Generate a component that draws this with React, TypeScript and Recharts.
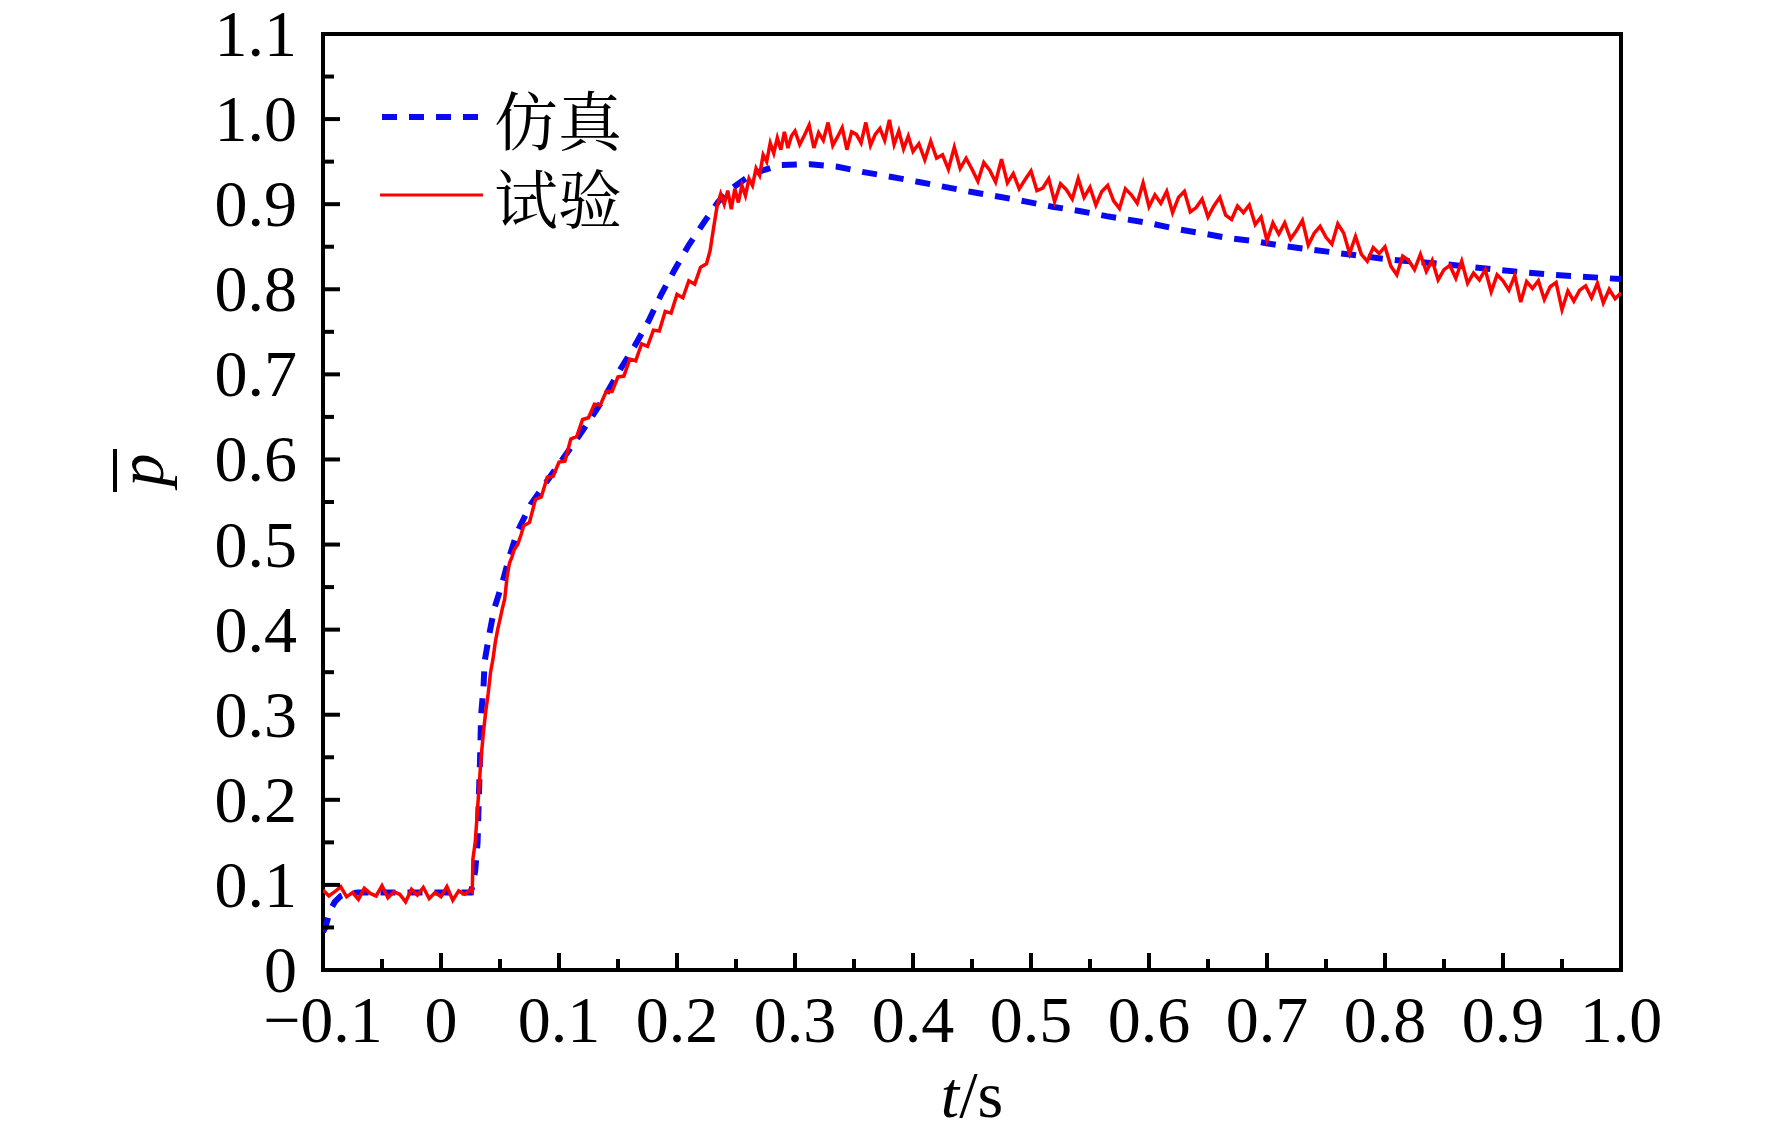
import React from "react";
import {
  Label,
  Legend,
  Line,
  LineChart,
  ReferenceArea,
  XAxis,
  YAxis,
} from "recharts";

// ---------------------------------------------------------------------------
// Data (t in s, p̄ normalised pressure)
// ---------------------------------------------------------------------------

// 仿真 — simulation, smooth
const SIM: [number, number][] = [
  [-0.1, 0.045], [-0.098, 0.05], [-0.094, 0.07], [-0.09, 0.08], [-0.085, 0.087],
  [-0.08, 0.09], [-0.07, 0.091], [0, 0.091], [0.025, 0.091], [0.027, 0.1],
  [0.029, 0.117], [0.031, 0.15], [0.032, 0.2], [0.033, 0.243], [0.034, 0.3],
  [0.036, 0.332], [0.037, 0.363], [0.041, 0.395], [0.045, 0.424], [0.052, 0.455],
  [0.058, 0.486], [0.065, 0.516], [0.076, 0.547], [0.09, 0.575], [0.106, 0.606],
  [0.124, 0.642], [0.138, 0.672], [0.152, 0.706], [0.164, 0.733], [0.176, 0.763],
  [0.187, 0.795], [0.198, 0.823], [0.21, 0.852], [0.225, 0.883], [0.235, 0.903],
  [0.246, 0.918], [0.264, 0.936], [0.288, 0.946], [0.313, 0.947], [0.336, 0.944],
  [0.357, 0.938], [0.382, 0.932], [0.405, 0.926], [0.428, 0.92], [0.451, 0.914],
  [0.472, 0.909], [0.496, 0.903], [0.518, 0.897], [0.541, 0.892], [0.564, 0.886],
  [0.599, 0.878], [0.623, 0.871], [0.644, 0.866], [0.668, 0.86], [0.692, 0.856],
  [0.713, 0.851], [0.758, 0.843], [0.803, 0.835], [0.854, 0.829], [0.894, 0.823],
  [0.942, 0.817], [1.0, 0.812],
];

// 试验 — experiment, noisy trace, split by phase
const EXP_BASE: [number, number][] = [
  [-0.1, 0.094], [-0.095, 0.087], [-0.09, 0.092], [-0.085, 0.098], [-0.08, 0.086],
  [-0.075, 0.091], [-0.07, 0.083], [-0.065, 0.096], [-0.06, 0.09], [-0.055, 0.087],
  [-0.05, 0.099], [-0.045, 0.085], [-0.04, 0.092], [-0.035, 0.089], [-0.03, 0.08],
  [-0.025, 0.095], [-0.02, 0.088], [-0.015, 0.097], [-0.01, 0.084], [-0.005, 0.091],
  [0, 0.086], [0.005, 0.098], [0.01, 0.082], [0.015, 0.093], [0.02, 0.089],
  [0.025, 0.094],
];

const EXP_RISE: [number, number][] = [
  [0.0265, 0.092], [0.027, 0.13], [0.029, 0.15], [0.03, 0.17], [0.032, 0.21],
  [0.034, 0.25], [0.036, 0.28], [0.038, 0.305], [0.04, 0.325], [0.042, 0.35],
  [0.044, 0.365], [0.046, 0.385], [0.048, 0.4], [0.05, 0.412], [0.052, 0.425],
  [0.054, 0.436], [0.056, 0.462], [0.058, 0.478], [0.06, 0.485], [0.062, 0.494],
  [0.065, 0.5], [0.068, 0.512], [0.07, 0.522], [0.075, 0.526], [0.08, 0.553],
  [0.085, 0.556], [0.09, 0.579], [0.095, 0.58], [0.1, 0.597], [0.105, 0.598],
  [0.11, 0.624], [0.115, 0.627], [0.12, 0.647], [0.125, 0.649], [0.13, 0.665],
  [0.135, 0.664], [0.14, 0.68], [0.145, 0.68], [0.15, 0.697], [0.155, 0.698],
  [0.16, 0.718], [0.165, 0.716], [0.17, 0.736], [0.175, 0.733], [0.18, 0.752],
  [0.185, 0.751], [0.19, 0.774], [0.195, 0.772], [0.2, 0.794], [0.205, 0.79],
  [0.21, 0.81], [0.215, 0.806], [0.22, 0.826], [0.225, 0.83], [0.228, 0.845],
  [0.231, 0.872], [0.234, 0.898], [0.237, 0.912], [0.24, 0.9], [0.243, 0.916],
  [0.246, 0.894], [0.249, 0.918], [0.252, 0.902], [0.255, 0.922], [0.258, 0.91],
  [0.261, 0.93], [0.264, 0.922], [0.267, 0.942], [0.27, 0.934], [0.273, 0.958],
  [0.276, 0.95], [0.279, 0.972], [0.282, 0.96], [0.285, 0.978], [0.288, 0.964],
  [0.291, 0.985], [0.294, 0.966], [0.297, 0.98],
];

const EXP_PEAK: [number, number][] = [
  [0.3, 0.986], [0.304, 0.97], [0.308, 0.981], [0.312, 0.993], [0.316, 0.966],
  [0.32, 0.984], [0.324, 0.975], [0.328, 0.996], [0.332, 0.969], [0.336, 0.979],
  [0.34, 0.99], [0.344, 0.964], [0.348, 0.985], [0.352, 0.982], [0.356, 0.972],
  [0.36, 0.996], [0.364, 0.969], [0.368, 0.982], [0.372, 0.989], [0.376, 0.975],
  [0.38, 0.999], [0.384, 0.97], [0.388, 0.986], [0.392, 0.965], [0.396, 0.98],
  [0.4, 0.962],
];

const EXP_DECAY: [number, number][] = [
  [0.405, 0.971], [0.41, 0.952], [0.415, 0.974], [0.42, 0.954], [0.425, 0.958],
  [0.43, 0.941], [0.435, 0.967], [0.44, 0.942], [0.445, 0.954], [0.45, 0.941],
  [0.455, 0.927], [0.46, 0.949], [0.465, 0.94], [0.47, 0.926], [0.475, 0.953],
  [0.48, 0.925], [0.485, 0.936], [0.49, 0.918], [0.495, 0.929], [0.5, 0.939],
  [0.505, 0.916], [0.51, 0.919], [0.515, 0.93], [0.52, 0.903], [0.525, 0.924],
  [0.53, 0.917], [0.535, 0.906], [0.54, 0.93], [0.545, 0.908], [0.55, 0.92],
  [0.555, 0.899], [0.56, 0.915], [0.565, 0.922], [0.57, 0.904], [0.575, 0.895],
  [0.58, 0.918], [0.585, 0.911], [0.59, 0.901], [0.595, 0.925], [0.6, 0.897],
  [0.605, 0.911], [0.61, 0.901], [0.615, 0.915], [0.62, 0.89], [0.625, 0.908],
  [0.63, 0.915], [0.635, 0.891], [0.64, 0.896], [0.645, 0.906], [0.65, 0.885],
  [0.655, 0.898], [0.66, 0.908], [0.665, 0.887], [0.67, 0.882], [0.675, 0.898],
  [0.68, 0.89], [0.685, 0.899], [0.69, 0.876], [0.695, 0.885], [0.7, 0.857],
  [0.705, 0.878], [0.71, 0.865], [0.715, 0.878], [0.72, 0.859], [0.725, 0.869],
  [0.73, 0.881], [0.735, 0.852], [0.74, 0.866], [0.745, 0.874], [0.75, 0.861],
  [0.755, 0.853], [0.76, 0.877], [0.765, 0.866], [0.77, 0.842], [0.775, 0.862],
  [0.78, 0.841], [0.785, 0.833], [0.79, 0.849], [0.795, 0.842], [0.8, 0.85],
  [0.805, 0.827], [0.81, 0.817], [0.815, 0.839], [0.82, 0.834], [0.825, 0.823],
  [0.83, 0.841], [0.835, 0.821], [0.84, 0.834], [0.845, 0.811], [0.85, 0.823],
  [0.855, 0.828], [0.86, 0.813], [0.865, 0.833], [0.87, 0.807], [0.875, 0.819],
  [0.88, 0.811], [0.885, 0.823], [0.89, 0.797], [0.895, 0.817], [0.9, 0.81],
  [0.905, 0.799], [0.91, 0.816], [0.915, 0.785], [0.92, 0.809], [0.925, 0.801],
  [0.93, 0.81], [0.935, 0.788], [0.94, 0.803], [0.945, 0.808], [0.95, 0.776],
  [0.955, 0.798], [0.96, 0.786], [0.965, 0.799], [0.97, 0.804], [0.975, 0.79],
  [0.98, 0.807], [0.985, 0.784], [0.99, 0.8], [0.995, 0.789], [1.0, 0.796],
];

const X_TICKS = [
  -0.1, -0.05, 0, 0.05, 0.1, 0.15, 0.2, 0.25, 0.3, 0.35, 0.4, 0.45, 0.5, 0.55,
  0.6, 0.65, 0.7, 0.75, 0.8, 0.85, 0.9, 0.95, 1.0,
];
const X_TICK_LABELS = [
  "\u22120.1", "", "0", "", "0.1", "", "0.2", "", "0.3", "", "0.4", "", "0.5", "",
  "0.6", "", "0.7", "", "0.8", "", "0.9", "", "1.0",
];
const Y_TICKS = [
  0, 0.05, 0.1, 0.15, 0.2, 0.25, 0.3, 0.35, 0.4, 0.45, 0.5, 0.55, 0.6, 0.65, 0.7,
  0.75, 0.8, 0.85, 0.9, 0.95, 1.0, 1.05, 1.1,
];
const Y_TICK_LABELS = [
  "0", "", "0.1", "", "0.2", "", "0.3", "", "0.4", "", "0.5", "", "0.6", "", "0.7",
  "", "0.8", "", "0.9", "", "1.0", "", "1.1",
];

const SERIES_NAMES = ["仿真", "试验"];

// ---------------------------------------------------------------------------
// Styling
// ---------------------------------------------------------------------------

const W = 1772;
const H = 1138;
const SIM_COLOR = "#0a0af0";
const EXP_COLOR = "#ff0000";
const SERIF = '"Liberation Serif", "Times New Roman", serif';
const CJK = '"Noto Serif CJK SC", "Noto Sans CJK SC", serif';
const FONT_SIZE = 66;
const MAJOR = 17;
const MINOR = 11;

const toPoints = (rows: [number, number][]) => rows.map(([t, p]) => ({ t, p }));
const simData = toPoints(SIM);
const expData = toPoints([...EXP_BASE, ...EXP_RISE, ...EXP_PEAK, ...EXP_DECAY]);

function labelFor(ticks: number[], labels: string[], v: number) {
  const i = ticks.findIndex((t) => Math.abs(t - v) < 1e-6);
  return i >= 0 ? labels[i] : "";
}

function XTick(props: any) {
  const { x, y, payload } = props;
  const text = labelFor(X_TICKS, X_TICK_LABELS, payload.value);
  const len = text ? MAJOR : MINOR;
  return (
    <g>
      <line x1={x} x2={x} y1={y} y2={y - len} stroke="#000" strokeWidth={4} />
      {text && (
        <text
          x={x}
          y={y + 72}
          textAnchor="middle"
          fontFamily={SERIF}
          fontSize={FONT_SIZE}
          fill="#000"
        >
          {text}
        </text>
      )}
    </g>
  );
}

function YTick(props: any) {
  const { x, y, payload } = props;
  const text = labelFor(Y_TICKS, Y_TICK_LABELS, payload.value);
  const len = text ? MAJOR : MINOR;
  return (
    <g>
      <line x1={x} x2={x + len} y1={y} y2={y} stroke="#000" strokeWidth={4} />
      {text && (
        <text
          x={x - 26}
          y={y + 22}
          textAnchor="end"
          fontFamily={SERIF}
          fontSize={FONT_SIZE}
          fill="#000"
        >
          {text}
        </text>
      )}
    </g>
  );
}

function renderLegend() {
  return (
    <svg width={300} height={170}>
      <line
        x1={12}
        x2={110}
        y1={47}
        y2={47}
        stroke={SIM_COLOR}
        strokeWidth={6}
        strokeDasharray="15 12"
      />
      <text x={124} y={47} dominantBaseline="central" fontFamily={CJK} fontSize={64} fill="#000">
        {SERIES_NAMES[0]}
      </text>
      <line x1={10} x2={113} y1={125} y2={125} stroke={EXP_COLOR} strokeWidth={3} />
      <text x={124} y={125} dominantBaseline="central" fontFamily={CJK} fontSize={64} fill="#000">
        {SERIES_NAMES[1]}
      </text>
    </svg>
  );
}

export default function App() {
  return (
    <div style={{ position: "absolute", left: 0, top: 0, width: W, height: H, background: "#fff" }}>
      <LineChart
        width={W}
        height={H}
        margin={{ top: 34, right: 151, bottom: 128, left: 263 }}
      >
        <XAxis
          dataKey="t"
          type="number"
          domain={[-0.1, 1.0]}
          ticks={X_TICKS}
          allowDataOverflow
          height={40}
          tickSize={0}
          tickMargin={0}
          axisLine={false}
          tickLine={false}
          tick={<XTick />}
          interval={0}
        >
          <Label
            content={() => (
              <text x={972} y={1117} textAnchor="middle" fontFamily={SERIF} fontSize={FONT_SIZE} fill="#000">
                <tspan fontStyle="italic">t</tspan>
                <tspan>/s</tspan>
              </text>
            )}
          />
        </XAxis>
        <YAxis
          type="number"
          domain={[0, 1.1]}
          ticks={Y_TICKS}
          allowDataOverflow
          width={60}
          tickSize={0}
          tickMargin={0}
          axisLine={false}
          tickLine={false}
          tick={<YTick />}
          interval={0}
        >
          <Label
            content={() => (
              <g transform="translate(163, 470) rotate(-90)">
                <text x={0} y={0} textAnchor="middle" fontFamily={SERIF} fontStyle="italic" fontSize={FONT_SIZE} fill="#000">
                  p
                </text>
                <line x1={-22} x2={21} y1={-48} y2={-48} stroke="#000" strokeWidth={4} />
              </g>
            )}
          />
        </YAxis>
        <ReferenceArea
          x1={-0.1}
          x2={1.0}
          y1={0}
          y2={1.1}
          fill="none"
          stroke="#000"
          strokeWidth={4}
          ifOverflow="visible"
        />
        <Legend
          layout="vertical"
          align="center"
          verticalAlign="middle"
          content={renderLegend}
          wrapperStyle={{ left: 370, top: 70, width: 300, height: 170 }}
        />
        <Line
          data={simData}
          dataKey="p"
          type="linear"
          stroke={SIM_COLOR}
          strokeWidth={6}
          strokeDasharray="15 12"
          dot={false}
          activeDot={false}
          isAnimationActive={false}
        />
        <Line
          data={expData}
          dataKey="p"
          type="linear"
          stroke={EXP_COLOR}
          strokeWidth={3.5}
          dot={false}
          activeDot={false}
          isAnimationActive={false}
        />
      </LineChart>
    </div>
  );
}
